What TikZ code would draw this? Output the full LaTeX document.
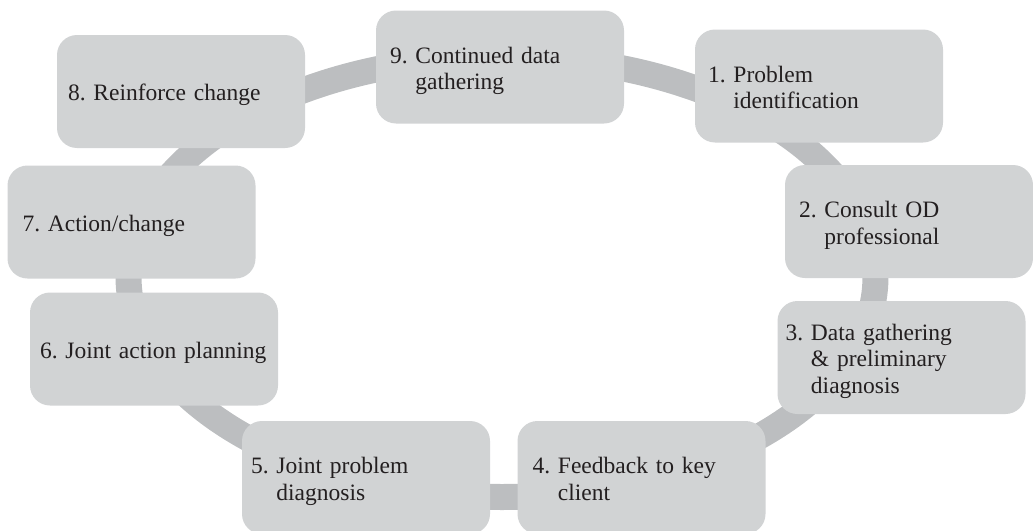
\documentclass[tikz,border=0pt]{standalone}
\usepackage{fontspec}
\setmainfont{Liberation Serif}
\definecolor{boxgray}{HTML}{D1D3D4}
\definecolor{ringgray}{HTML}{BCBEC0}
\definecolor{ink}{HTML}{231F20}
% number in its own column, so wrapped lines hang under the first word;
% the block sits a little below the box centre
\newcommand{\steplabel}[2]{\raisebox{-4pt}[\height][\depth]{%
  \begin{tabular}{@{}l@{\ }l@{}}#1 & #2\end{tabular}}}

\begin{document}
\begin{tikzpicture}[x=1pt,y=-1pt,
  stepbox/.style={fill=boxgray, rounded corners=20pt, minimum height=113pt,
    inner ysep=0pt, inner xsep=#1pt,
    text width=\the\dimexpr248pt-#1pt*2\relax, align=left, text=ink,
    font=\fontsize{23.5}{26.5}\selectfont},
  ring/.style={draw=ringgray, line width=26pt}]
\clip (0,0) rectangle (1033,530);

% the cycle ring behind the steps
\coordinate (hub) at (502,276.8);
\draw[ring] (hub) ellipse [x radius=373.5pt, y radius=220.2pt];

% the nine steps around the ring
\node[stepbox=14] (s9) at (500,67)    {\steplabel{9.}{Continued data\\ & gathering}};
\node[stepbox=13] (s1) at (819,86)    {\steplabel{1.}{Problem\\ & identification}};
\node[stepbox=14] (s2) at (909,221.5) {\steplabel{2.}{Consult OD\\ & professional}};
\node[stepbox=8]  (s3) at (901.5,357.5) {\steplabel{3.}{Data gathering\\ & \& preliminary\\ & diagnosis}};
\node[stepbox=15] (s4) at (641.5,477.5) {\steplabel{4.}{Feedback to key\\ & client}};
\node[stepbox=9]  (s5) at (366,477.5) {\steplabel{5.}{Joint problem\\ & diagnosis}};
\node[stepbox=10] (s6) at (154,349)   {\steplabel{6.}{Joint action planning}};
\node[stepbox=15] (s7) at (131.5,222) {\steplabel{7.}{Action/change}};
\node[stepbox=11] (s8) at (181,91.5)  {\steplabel{8.}{Reinforce change}};
\end{tikzpicture}
\end{document}
